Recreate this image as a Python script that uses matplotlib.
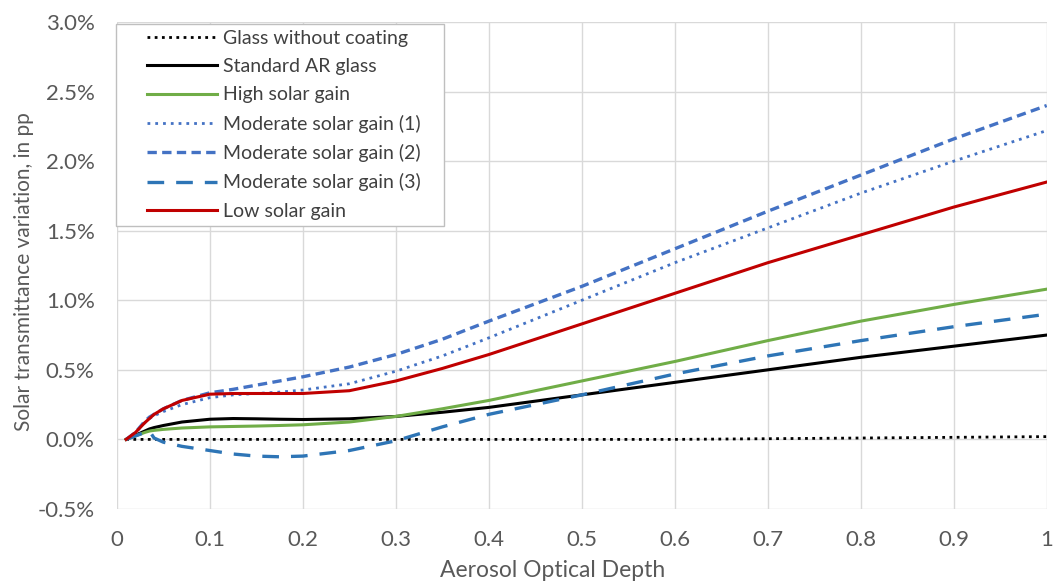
import matplotlib.pyplot as plt
from matplotlib.ticker import FuncFormatter
from matplotlib.legend_handler import HandlerLine2D

plt.rcParams['font.family'] = ['Lato', 'DejaVu Sans']

# aerosol optical depth sample points
aod = [0.01, 0.02, 0.03, 0.035, 0.04, 0.05, 0.07, 0.1, 0.125, 0.15, 0.175, 0.2, 0.25, 0.3,
       0.35, 0.4, 0.5, 0.6, 0.7, 0.8, 0.9, 1.0]

# solar transmittance variation (%)
glass_no_coating = [0, 0, 0, 0, 0, 0, 0, 0, 0, 0, 0, 0, 0, 0,
                    0, 0, 0, 0, 0.005, 0.01, 0.015, 0.02]
standard_ar = [0, 0.03, 0.06, 0.075, 0.085, 0.1, 0.125, 0.145, 0.15, 0.148, 0.145, 0.143, 0.148, 0.165,
               0.195, 0.23, 0.32, 0.41, 0.5, 0.59, 0.67, 0.75]
high_gain = [0, 0.025, 0.05, 0.06, 0.065, 0.072, 0.082, 0.09, 0.093, 0.096, 0.1, 0.105, 0.125, 0.165,
             0.22, 0.28, 0.42, 0.56, 0.71, 0.85, 0.97, 1.08]
moderate_1 = [0, 0.05, 0.12, 0.15, 0.17, 0.2, 0.25, 0.3, 0.32, 0.33, 0.34, 0.355, 0.4, 0.49,
              0.6, 0.73, 1.0, 1.27, 1.52, 1.77, 2.0, 2.22]
moderate_2 = [0, 0.05, 0.13, 0.16, 0.18, 0.22, 0.28, 0.335, 0.36, 0.39, 0.42, 0.45, 0.52, 0.61,
              0.72, 0.85, 1.1, 1.37, 1.64, 1.9, 2.16, 2.4]
moderate_3 = [0, 0.025, 0.05, 0.06, 0.01, -0.02, -0.05, -0.08, -0.105, -0.12, -0.125, -0.12, -0.08, -0.01,
              0.09, 0.18, 0.32, 0.47, 0.6, 0.71, 0.81, 0.9]
low_gain = [0, 0.05, 0.12, 0.15, 0.18, 0.22, 0.28, 0.325, 0.33, 0.33, 0.33, 0.33, 0.35, 0.42,
            0.51, 0.61, 0.83, 1.05, 1.27, 1.47, 1.67, 1.85]

blue = '#4472c4'
blue2 = '#2e75b6'


class IndentedLine(HandlerLine2D):
    # legend sample line pushed right by `shift` points
    def __init__(self, shift, **kw):
        super().__init__(**kw)
        self.shift = shift

    def create_artists(self, legend, orig_handle, xdescent, ydescent, width, height, fontsize, trans):
        return super().create_artists(legend, orig_handle, xdescent - self.shift, ydescent,
                                      width - self.shift, height, fontsize, trans)


fig, ax = plt.subplots(figsize=(10.53, 5.81), dpi=100)
fig.subplots_adjust(left=0.111, right=0.994, bottom=0.124, top=0.962)

lines = []
lines += ax.plot(aod, glass_no_coating, color='black', lw=2, ls=(0, (1, 1.6)), label='Glass without coating')
lines += ax.plot(aod, standard_ar, color='black', lw=2.2, label='Standard AR glass')
lines += ax.plot(aod, high_gain, color='#70ad47', lw=2.2, label='High solar gain')
lines += ax.plot(aod, moderate_1, color=blue, lw=2, ls=(0, (1, 1.8)), label='Moderate solar gain (1)')
lines += ax.plot(aod, moderate_2, color=blue, lw=2.4, ls=(0, (2.8, 1.6)), label='Moderate solar gain (2)')
lines += ax.plot(aod, moderate_3, color=blue2, lw=2.4, ls=(0, (5, 3.6)), label='Moderate solar gain (3)')
lines += ax.plot(aod, low_gain, color='#c00000', lw=2.2, label='Low solar gain')

ax.set_xlim(0, 1)
ax.set_ylim(-0.5, 3.0)
ax.set_xticks([i / 10 for i in range(11)])
ax.set_xticklabels(['0', '0.1', '0.2', '0.3', '0.4', '0.5', '0.6', '0.7', '0.8', '0.9', '1'])
ax.set_yticks([-0.5, 0, 0.5, 1.0, 1.5, 2.0, 2.5, 3.0])
ax.yaxis.set_major_formatter(FuncFormatter(lambda v, p: '%.1f%%' % v))
ax.tick_params(length=0, labelsize=16, labelcolor='#595959')
ax.tick_params(axis='y', pad=16)
ax.tick_params(axis='x', pad=15)
ax.grid(True, color='#d9d9d9', lw=1)
ax.set_axisbelow(True)
for s in ax.spines.values():
    s.set_visible(False)

ax.set_xlabel('Aerosol Optical Depth', fontsize=16.5, color='#595959')
ax.xaxis.set_label_coords(0.469, -0.105)
ax.set_ylabel('Solar transmittance variation, in pp', fontsize=15, color='#595959')
ax.yaxis.set_label_coords(-0.089, 0.487)

leg_fs = 14
leg = ax.legend(handles=lines, loc='upper left', fontsize=leg_fs, frameon=True, fancybox=False,
                framealpha=1, edgecolor='#bfbfbf', borderaxespad=0, mode='expand',
                bbox_to_anchor=(-0.001, 0.5, 0.353, 0.496),
                handlelength=4.9, handletextpad=0.3, labelspacing=0.58, borderpad=0.3,
                handler_map={l: IndentedLine(1.3 * leg_fs) for l in lines})
leg.get_frame().set_linewidth(1)
for t in leg.get_texts():
    t.set_color('#404040')

plt.savefig('out.png', dpi=100)
